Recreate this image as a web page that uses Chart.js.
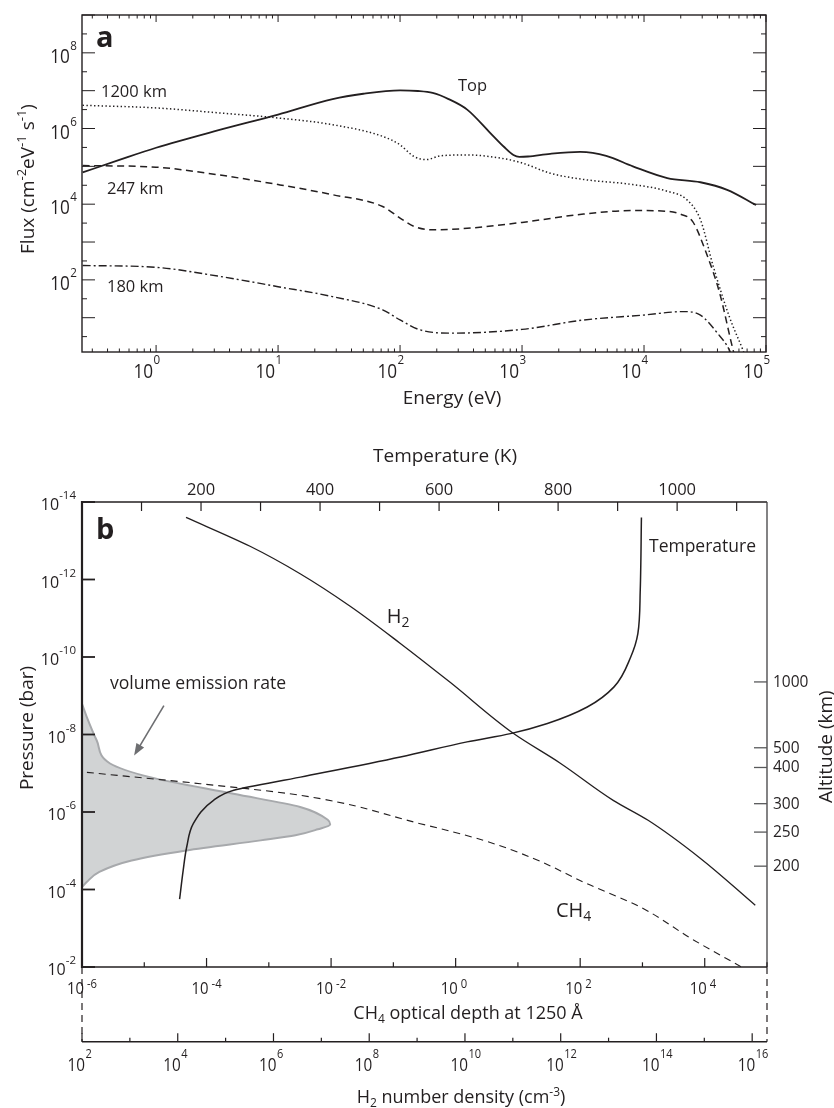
<!DOCTYPE html>
<html>
<head>
<meta charset="utf-8">
<script src="https://cdn.jsdelivr.net/npm/chart.js@4.4.1/dist/chart.umd.min.js"></script>
<style>
  html, body { margin: 0; padding: 0; background: #fff; }
  canvas { display: block; }
</style>
</head>
<body>
<canvas id="fluxChart" width="834" height="420"></canvas>
<canvas id="profileChart" width="834" height="688"></canvas>
<script>
// panel a: electron flux spectra at several altitudes (eV, cm-2 eV-1 s-1)
const energyTop = [0.25, 0.5, 1, 3.2, 10, 28, 50, 100, 140, 185, 250, 355, 550, 710, 850, 950, 1120, 1700, 3000, 4900, 8100, 15500, 29000, 48000, 83000]
const fluxTop = [6.9e4, 1.48e5, 3.1e5, 8.9e5, 2.34e6, 6.0e6, 8.3e6, 1.02e7, 9.8e6, 8.7e6, 6.0e6, 3.16e6, 7.6e5, 3.3e5, 2.0e5, 1.78e5, 1.82e5, 2.14e5, 2.4e5, 1.9e5, 1.0e5, 4.9e4, 3.8e4, 2.4e4, 9.5e3]

const energy1200 = [0.25, 1, 3.2, 10, 28, 72, 100, 130, 165, 215, 355, 660, 1000, 1700, 3200, 8100, 15500, 22400, 29000, 37000, 50000, 64600, 71000]
const flux1200 = [4.1e6, 3.5e6, 2.6e6, 1.9e6, 1.26e6, 6.2e5, 3.7e5, 1.82e5, 1.51e5, 1.9e5, 2.0e5, 1.66e5, 1.23e5, 6.6e4, 4.5e4, 3.3e4, 2.2e4, 1.32e4, 3.9e3, 224, 10.7, 1.41, 0.63]

const energy247 = [0.25, 1, 3.2, 10, 28, 72, 100, 130, 185, 355, 1000, 3200, 8100, 15500, 20000, 25000, 32400, 41700, 53700, 57500]
const flux247 = [1.05e5, 9.5e4, 6.0e4, 3.3e4, 1.78e4, 8.7e3, 4.3e3, 2.6e3, 2.1e3, 2.3e3, 3.3e3, 5.5e3, 6.8e3, 6.5e3, 5.4e3, 3.5e3, 513, 44.7, 1.41, 0.63]

const energy180 = [0.25, 1, 3.2, 10, 28, 72, 100, 145, 257, 1000, 3200, 9800, 21000, 29000, 40000, 50000, 55000]
const flux180 = [240, 214, 126, 66, 36, 16.2, 8.7, 4.8, 3.9, 4.9, 8.7, 11.7, 14.5, 11.7, 3.9, 1.41, 0.63]

const energyLabels = [1, 10, 100, 1000, 10000, 100000]
const fluxLabels = [1e2, 1e4, 1e6, 1e8]

// panel b: vertical profiles against pressure (bar)
const h2Density = [1.49e4, 3.24e5, 3.6e6, 4.0e7, 4.4e8, 4.9e9, 1.02e11, 9.8e11, 1.25e13, 6.7e13, 8.2e14, 1.16e16]
const h2Pressure = [2.5e-14, 1.39e-13, 7.1e-13, 4.9e-12, 4.4e-11, 4.5e-10, 9.3e-9, 5.5e-8, 5.0e-7, 1.64e-6, 1.56e-5, 2.55e-4]

const temperatureK = [940, 938, 934, 922, 894, 849, 782, 720, 647, 535, 367, 255, 221, 187, 176, 170, 164]
const temperaturePressure = [2.5e-14, 1.9e-12, 2.5e-11, 1.0e-10, 5.9e-10, 1.95e-9, 5.2e-9, 9.5e-9, 1.55e-8, 3.8e-8, 1.26e-7, 2.75e-7, 5.0e-7, 2.0e-6, 7.9e-6, 3.2e-5, 1.78e-4]

const ch4Depth = [1.2e-6, 7.9e-5, 3.2e-3, 0.27, 2.8, 17.8, 129, 912, 6600, 3.9e4]
const ch4Pressure = [9.5e-8, 1.86e-7, 3.7e-7, 2.0e-6, 5.4e-6, 1.58e-5, 7.1e-5, 2.8e-4, 2.0e-3, 1.0e-2]

// relative volume emission rate (peak = 1)
const emissionRate = [0, 0.019, 0.059, 0.113, 0.274, 0.61, 0.879, 0.99, 1.0, 0.95, 0.86, 0.72, 0.42, 0.2, 0.07, 0.02, 0]
const emissionPressure = [1.62e-9, 3.5e-9, 1.41e-8, 5.6e-8, 1.26e-7, 3.4e-7, 7.4e-7, 1.58e-6, 2.1e-6, 2.8e-6, 4.0e-6, 5.4e-6, 9.8e-6, 1.78e-5, 3.5e-5, 6.3e-5, 8.7e-5]

const altitudeKm = [1000, 500, 400, 300, 250, 200]
const altitudePressure = [4.4e-10, 2.2e-8, 7.1e-8, 6.1e-7, 3.3e-6, 2.5e-5]

const temperatureLabels = [200, 400, 600, 800, 1000]
const pressureLabels = [1e-14, 1e-12, 1e-10, 1e-8, 1e-6, 1e-4, 1e-2]
const depthLabels = [1e-6, 1e-4, 1e-2, 1, 1e2, 1e4]
const densityLabels = [1e2, 1e4, 1e6, 1e8, 1e10, 1e12, 1e14, 1e16]

const ink = "#231f20"
const FAMILY = '"Open Sans", "DejaVu Sans", sans-serif'
const font = (size, weight = "normal") => `${weight} ${size}px ${FAMILY}`
const pts = (xs, ys) => xs.map((x, i) => ({ x, y: ys[i] }))
const exp10 = v => Math.round(Math.log10(v))

function seg(ctx, x1, y1, x2, y2) {
  ctx.beginPath()
  ctx.moveTo(x1, y1)
  ctx.lineTo(x2, y2)
  ctx.stroke()
}

function text(ctx, s, x, y, f, squeeze = 1) {
  ctx.save()
  ctx.font = f
  ctx.textAlign = "left"
  ctx.textBaseline = "alphabetic"
  ctx.translate(x, y)
  ctx.scale(squeeze, 1)
  ctx.fillText(s, 0, 0)
  ctx.restore()
}

// "10" with a raised exponent. anchor: right edge of whole label, right edge of "10", or centre
function power(ctx, e, x, y, o) {
  const sq = o.squeeze || 1
  const gap = o.gap || 0
  ctx.font = font(o.size)
  const wb = ctx.measureText("10").width * sq
  ctx.font = font(o.sup)
  const we = ctx.measureText(String(e)).width * sq
  let x0
  if (o.anchor === "right") x0 = x - wb - gap - we
  else if (o.anchor === "base") x0 = x - wb
  else x0 = x - (wb + gap + we) / 2
  text(ctx, "10", x0, y, font(o.size), sq)
  text(ctx, String(e), x0 + wb + gap, y - o.raise, font(o.sup), sq)
}

// text runs with super/subscripts, optionally rotated
function rich(ctx, parts, x, y, size, { align = "left", rotate = 0 } = {}) {
  const small = Math.round(size * 0.68)
  ctx.save()
  ctx.translate(x, y)
  if (rotate) ctx.rotate(rotate)
  ctx.textBaseline = "alphabetic"
  ctx.textAlign = "left"
  const widths = parts.map(([s, k]) => { ctx.font = font(k ? small : size); return ctx.measureText(s).width })
  const total = widths.reduce((a, b) => a + b, 0)
  let cx = align === "center" ? -total / 2 : 0
  parts.forEach(([s, k], i) => {
    ctx.font = font(k ? small : size)
    const dy = k === "sup" ? -size * 0.4 : k === "sub" ? size * 0.22 : 0
    ctx.fillText(s, cx, dy)
    cx += widths[i]
  })
  ctx.restore()
}

const fluxDecor = {
  id: "fluxDecor",
  afterDraw(chart) {
    const { ctx, chartArea: a, scales: { x, y } } = chart
    ctx.save()
    ctx.strokeStyle = ink
    ctx.fillStyle = ink
    ctx.lineWidth = 1.4
    ctx.strokeRect(a.left, a.top, a.right - a.left, a.bottom - a.top)

    ctx.lineWidth = 1
    for (let e = -1; e <= 5; e++) {
      for (let m = 1; m <= 9; m++) {
        const v = m * Math.pow(10, e)
        if (v < x.min || v > x.max) continue
        const px = x.getPixelForValue(v)
        const len = m === 1 ? 7 : 3.5
        seg(ctx, px, a.bottom, px, a.bottom - len)
        seg(ctx, px, a.top, px, a.top + len)
      }
    }
    for (let k = 0; k <= 18; k++) {
      const v = Math.pow(10, k / 2)
      if (v < y.min || v > y.max * 1.001) continue
      const py = y.getPixelForValue(v)
      const len = k % 2 === 0 ? 13 : 5
      seg(ctx, a.left, py, a.left + len, py)
      seg(ctx, a.right, py, a.right - len, py)
    }

    energyLabels.forEach(v => {
      power(ctx, exp10(v), x.getPixelForValue(v) - 3, 378, { size: 20, sup: 13.5, squeeze: 0.86, raise: 14, anchor: "base", gap: 0.5 })
    })
    fluxLabels.forEach(v => {
      const py = y.getPixelForValue(v)
      power(ctx, exp10(v), a.left - 5, py + 10, { size: 20, sup: 13.5, squeeze: 0.86, raise: 13, anchor: "right", gap: 0.5 })
    })

    text(ctx, "a", 96, 46.5, font(29, "bold"))
    text(ctx, "1200 km", 101, 96.7, font(16.5))
    text(ctx, "247 km", 107, 194.3, font(16.5))
    text(ctx, "180 km", 107, 292.3, font(16.5))
    text(ctx, "Top", 458, 90.7, font(16.5))

    ctx.textAlign = "center"
    ctx.font = font(19)
    ctx.fillText("Energy (eV)", 452, 404)
    rich(ctx, [["Flux (cm"], ["-2", "sup"], ["eV"], ["-1", "sup"], [" s"], ["-1", "sup"], [")"]], 34, 179, 19, { align: "center", rotate: -Math.PI / 2 })
    ctx.restore()
  }
}

const curve = (label, xs, ys, dash, width) => ({
  label,
  data: pts(xs, ys),
  borderColor: ink,
  borderWidth: width,
  borderDash: dash,
  pointRadius: 0,
  fill: false,
  cubicInterpolationMode: "monotone"
})

new Chart(document.getElementById("fluxChart"), {
  type: "line",
  data: {
    datasets: [
      curve("Top", energyTop, fluxTop, [], 1.8),
      curve("1200 km", energy1200, flux1200, [1.4, 2.4], 1.5),
      curve("247 km", energy247, flux247, [7, 4.5], 1.5),
      curve("180 km", energy180, flux180, [8, 3, 2, 3], 1.4)
    ]
  },
  options: {
    responsive: false,
    animation: false,
    layout: { padding: { left: 82, right: 68, top: 15, bottom: 68 } },
    plugins: { legend: { display: false }, tooltip: { enabled: false } },
    scales: {
      x: { type: "logarithmic", display: false, min: 0.247, max: 1e5 },
      y: { type: "logarithmic", display: false, min: 1.24, max: 1e9 }
    }
  },
  plugins: [fluxDecor]
})

// arrow pointing at the emission profile, in data units (relative rate, bar)
const emissionArrow = { from: [0.33, 1.8e-9], to: [0.21, 3.5e-8] }

const profileDecor = {
  id: "profileDecor",
  afterDraw(chart) {
    const { ctx, chartArea: a, scales: { xT, xTau, xN, xEm, y } } = chart
    ctx.save()
    ctx.strokeStyle = ink
    ctx.fillStyle = ink

    // frame
    ctx.lineWidth = 1.3
    seg(ctx, a.left, a.top, a.right, a.top)
    ctx.strokeStyle = "#414042"
    seg(ctx, a.right, a.top, a.right, a.bottom)
    ctx.strokeStyle = ink
    ctx.lineWidth = 1.5
    seg(ctx, a.left, a.bottom, a.right, a.bottom)
    ctx.lineWidth = 2.2
    seg(ctx, a.left, a.top - 1, a.left, a.bottom + 1)

    // pressure (left)
    ctx.lineWidth = 1.8
    pressureLabels.forEach(v => {
      const py = y.getPixelForValue(v)
      seg(ctx, a.left, py, a.left + 13, py)
      power(ctx, exp10(v), a.left - 6, py + 8.3, { size: 16, sup: 11.5, raise: 11.3, anchor: "right" })
    })

    // temperature (top)
    ctx.lineWidth = 1.2
    for (let t = 100; t <= xT.max; t += 100) {
      const px = xT.getPixelForValue(t)
      seg(ctx, px, a.top, px, a.top + 9)
    }
    ctx.textAlign = "center"
    ctx.font = font(16.5)
    temperatureLabels.forEach(t => ctx.fillText(String(t), xT.getPixelForValue(t), 75))
    ctx.font = font(19)
    ctx.fillText("Temperature (K)", 445, 42)

    // CH4 optical depth (bottom of frame)
    for (let k = -6; k <= 5; k++) {
      const px = xTau.getPixelForValue(Math.pow(10, k))
      seg(ctx, px, a.bottom, px, a.bottom - (k % 2 === 0 ? 9 : 4.7))
    }
    depthLabels.forEach(v => {
      power(ctx, exp10(v), xTau.getPixelForValue(v) + 2, 574, { size: 16.5, sup: 12.5, squeeze: 0.9, raise: 6, gap: 3, anchor: "base" })
    })
    rich(ctx, [["CH"], ["4", "sub"], [" optical depth at 1250 Å"]], 468, 599, 18, { align: "center" })

    // H2 number density axis, drawn below
    const ny = 621.7
    ctx.lineWidth = 1.5
    seg(ctx, a.left, ny, a.right, ny)
    ctx.lineWidth = 1.2
    for (let k = 2; k <= 16; k++) {
      const px = xN.getPixelForValue(Math.pow(10, k))
      seg(ctx, px, ny, px, ny - (k % 2 === 0 ? 8.5 : 4))
    }
    densityLabels.forEach(v => {
      power(ctx, exp10(v), xN.getPixelForValue(v) + 3, 650.7, { size: 18, sup: 13, squeeze: 0.85, raise: 12.7, gap: 0.5, anchor: "base" })
    })
    rich(ctx, [["H"], ["2", "sub"], [" number density (cm"], ["-3", "sup"], [")"]], 461, 683, 18, { align: "center" })

    ctx.setLineDash([7, 5])
    ctx.lineWidth = 1.2
    seg(ctx, a.left, a.bottom, a.left, ny)
    seg(ctx, a.right, a.bottom, a.right, ny)
    ctx.setLineDash([])

    // altitude (right)
    ctx.strokeStyle = "#58595b"
    ctx.lineWidth = 1.3
    ctx.textAlign = "left"
    ctx.font = font(15.5)
    altitudeKm.forEach((km, i) => {
      const py = y.getPixelForValue(altitudePressure[i])
      seg(ctx, a.right - 13, py, a.right, py)
      ctx.fillText(String(km), 773, py + 5)
    })

    // axis titles on the sides
    rich(ctx, [["Pressure (bar)"]], 33, 308, 19, { align: "center", rotate: -Math.PI / 2 })
    rich(ctx, [["Altitude (km)"]], 831.5, 326.7, 19, { align: "center", rotate: -Math.PI / 2 })

    // in-plot labels
    text(ctx, "b", 96, 119.3, font(29, "bold"))
    text(ctx, "volume emission rate", 110, 269.3, font(17.6))
    text(ctx, "Temperature", 649, 131.7, font(17.5))
    rich(ctx, [["H"], ["2", "sub"]], 386.7, 202.7, 20)
    rich(ctx, [["CH"], ["4", "sub"]], 556, 496.7, 20)

    // arrow
    const x1 = xEm.getPixelForValue(emissionArrow.from[0]), y1 = y.getPixelForValue(emissionArrow.from[1])
    const x2 = xEm.getPixelForValue(emissionArrow.to[0]), y2 = y.getPixelForValue(emissionArrow.to[1])
    const ang = Math.atan2(y2 - y1, x2 - x1)
    ctx.strokeStyle = "#6d6e71"
    ctx.fillStyle = "#6d6e71"
    ctx.lineWidth = 1.6
    seg(ctx, x1, y1, x2 - 8 * Math.cos(ang), y2 - 8 * Math.sin(ang))
    ctx.beginPath()
    ctx.moveTo(x2, y2)
    ctx.lineTo(x2 - 12 * Math.cos(ang) + 4.5 * Math.sin(ang), y2 - 12 * Math.sin(ang) - 4.5 * Math.cos(ang))
    ctx.lineTo(x2 - 12 * Math.cos(ang) - 4.5 * Math.sin(ang), y2 - 12 * Math.sin(ang) + 4.5 * Math.cos(ang))
    ctx.closePath()
    ctx.fill()
    ctx.restore()
  }
}

const profile = (label, xs, ys, xAxisID, style) => ({
  label,
  data: pts(xs, ys),
  xAxisID,
  yAxisID: "y",
  indexAxis: "y",
  pointRadius: 0,
  fill: false,
  cubicInterpolationMode: "monotone",
  borderColor: ink,
  order: 0,
  ...style
})

new Chart(document.getElementById("profileChart"), {
  type: "line",
  data: {
    datasets: [
      profile("volume emission rate", emissionRate, emissionPressure, "xEm", {
        fill: "shape", backgroundColor: "#d1d3d4", borderColor: "#a7a9ac", borderWidth: 2, order: 1
      }),
      profile("CH4", ch4Depth, ch4Pressure, "xTau", { borderWidth: 1.1, borderDash: [7, 5] }),
      profile("H2", h2Density, h2Pressure, "xN", { borderWidth: 1.3 }),
      profile("Temperature", temperatureK, temperaturePressure, "xT", { borderWidth: 1.5 })
    ]
  },
  options: {
    responsive: false,
    animation: false,
    layout: { padding: { left: 82, right: 67, top: 82, bottom: 141 } },
    plugins: { legend: { display: false }, tooltip: { enabled: false } },
    scales: {
      xT: { type: "linear", position: "top", display: false, min: 0, max: 1151 },
      xTau: { type: "logarithmic", position: "bottom", display: false, min: 1e-6, max: 1e5 },
      xN: { type: "logarithmic", position: "bottom", display: false, min: 1e2, max: 2.04e16 },
      xEm: { type: "linear", position: "bottom", display: false, min: 0, max: 2.76 },
      y: { type: "logarithmic", display: false, reverse: true, min: 1e-14, max: 1e-2 }
    }
  },
  plugins: [profileDecor]
})
</script>
</body>
</html>
